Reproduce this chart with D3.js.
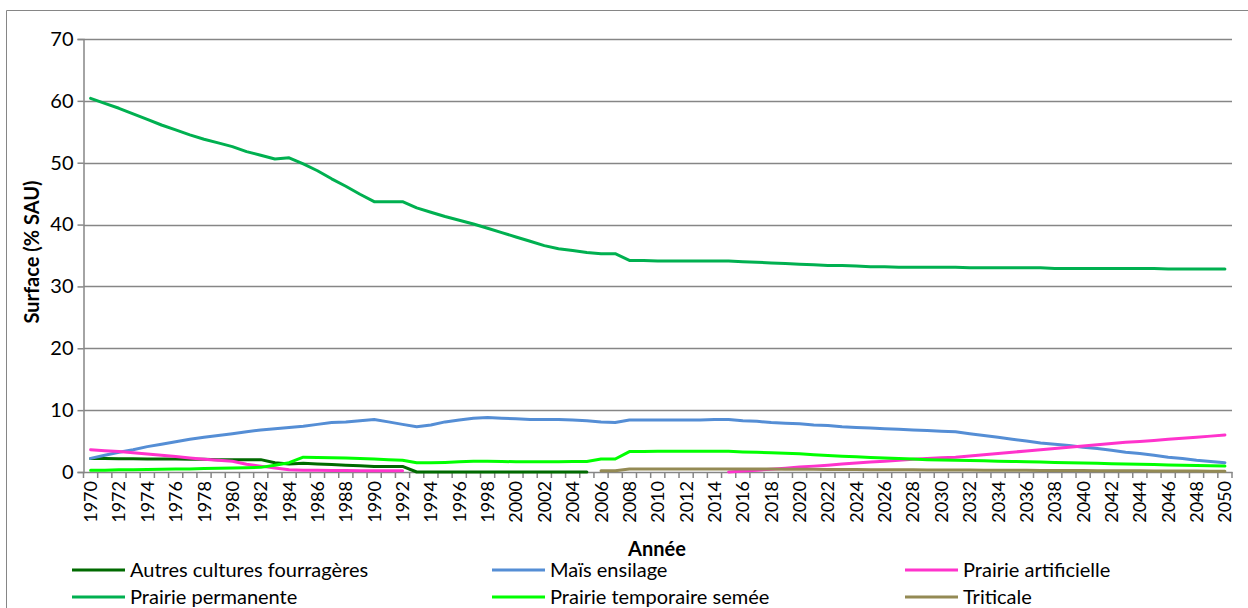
<!DOCTYPE html>
<html><head><meta charset="utf-8">
<script src="https://cdn.jsdelivr.net/npm/d3@7"></script>
<style>
html,body{margin:0;padding:0;background:#fff;}
svg{display:block;font-family:Lato,"Noto Sans",sans-serif;}
</style></head>
<body>
<svg id="chart" width="1248" height="608"></svg>
<script>
const years = d3.range(1970, 2051);
const yTicks = [0, 10, 20, 30, 40, 50, 60, 70];
const xLabelYears = years.filter(y => (y - 1970) % 2 === 0);

const seriesNames = ["Autres cultures fourragères","Maïs ensilage","Prairie artificielle","Prairie permanente","Prairie temporaire semée","Triticale"];
const seriesColors = ["#006A00","#558ED5","#FF33CC","#00B050","#00FF00","#948A54"];

const n = null;
const autres = [2.2,2.2,2.15,2.15,2.1,2.1,2.1,2.05,2.05,2.0,2.0,2.0,2.0,1.5,1.3,1.4,1.3,1.2,1.1,1.0,0.9,0.9,0.9,0,0,0,0,0,0,0,0,0,0,0,0,0,
 n,n,n,n,n,n,n,n,n,n,n,n,n,n,n,n,n,n,n,n,n,n,n,n,n,n,n,n,n,n,n,n,n,n,n,n,n,n,n,n,n,n,n,n,n];
const mais = [2.2,2.7,3.2,3.6,4.1,4.5,4.9,5.3,5.6,5.9,6.2,6.5,6.8,7.0,7.2,7.4,7.7,8.0,8.1,8.3,8.5,8.1,7.7,7.3,7.6,8.1,8.4,8.7,8.8,8.7,8.6,8.5,8.5,8.5,8.4,8.3,8.1,8.0,
 8.4,8.4,8.4,8.4,8.4,8.4,8.5,8.5,8.3,8.2,8.0,7.9,7.8,7.6,7.5,7.3,7.2,7.1,7.0,6.9,6.8,6.7,6.6,6.5,6.2,5.9,5.6,5.3,5.0,4.7,4.5,4.3,4.0,3.8,3.5,3.2,3.0,2.7,2.4,2.2,1.9,1.7,1.5];
const artificielle = [3.6,3.45,3.3,3.1,2.9,2.7,2.5,2.25,2.05,1.9,1.75,1.25,0.95,0.65,0.35,0.3,0.3,0.25,0.25,0.2,0.2,0.2,0.2,
 n,n,n,n,n,n,n,n,n,n,n,n,n,n,n,n,n,n,n,n,n,n,
 0.0,0.15,0.3,0.45,0.6,0.8,0.95,1.1,1.3,1.45,1.6,1.75,1.9,2.05,2.2,2.3,2.4,2.6,2.8,3.0,3.2,3.4,3.6,3.8,4.0,4.2,4.4,4.6,4.8,4.95,5.1,5.3,5.45,5.6,5.8,6.0];
const permanente = [60.4,59.6,58.8,57.9,57.0,56.1,55.3,54.5,53.8,53.2,52.6,51.8,51.2,50.6,50.8,49.8,48.7,47.4,46.2,44.9,43.7,43.7,43.7,42.7,42.0,41.3,40.7,40.1,39.4,38.7,38.0,37.3,36.6,36.1,35.8,35.5,35.3,35.3,
 34.2,34.2,34.1,34.1,34.1,34.1,34.1,34.1,34.0,33.9,33.8,33.7,33.6,33.5,33.4,33.4,33.3,33.2,33.2,33.1,33.1,33.1,33.1,33.1,33.0,33.0,33.0,33.0,33.0,33.0,32.9,32.9,32.9,32.9,32.9,32.9,32.9,32.9,32.8,32.8,32.8,32.8,32.8];
const temporaire = [0.3,0.3,0.35,0.35,0.4,0.45,0.5,0.5,0.55,0.6,0.65,0.7,0.75,1.1,1.5,2.4,2.35,2.3,2.25,2.2,2.1,2.0,1.9,1.5,1.5,1.55,1.65,1.75,1.75,1.7,1.65,1.65,1.65,1.65,1.7,1.7,2.1,2.1,
 3.3,3.3,3.35,3.35,3.35,3.35,3.35,3.35,3.25,3.2,3.1,3.05,2.95,2.8,2.65,2.55,2.45,2.35,2.25,2.2,2.1,2.0,1.95,1.9,1.85,1.8,1.75,1.7,1.65,1.6,1.55,1.5,1.45,1.4,1.35,1.3,1.25,1.2,1.15,1.1,1.05,1.0,0.95];
const triticale = [n,n,n,n,n,n,n,n,n,n,n,n,n,n,n,n,n,n,n,n,n,n,n,n,n,n,n,n,n,n,n,n,n,n,n,n,
 0.2,0.2,0.5,0.5,0.5,0.5,0.5,0.5,0.5,0.5,0.5,0.48,0.47,0.46,0.45,0.44,0.42,0.4,0.39,0.38,0.37,0.36,0.35,0.34,0.33,0.32,0.31,0.3,0.29,0.28,0.27,0.26,0.25,0.24,0.23,0.22,0.21,0.2,0.19,0.18,0.17,0.16,0.15,0.14,0.13];

const seriesValues = [autres, mais, artificielle, permanente, temporaire, triticale];

const svg = d3.select("#chart");
const gridColor = "#868686";
const fontFam = 'Lato,"Noto Sans",sans-serif';

// chart frame
svg.append("path").attr("d", "M6.5,608 V10.5 H1248").attr("fill","none").attr("stroke", gridColor).attr("stroke-width",1);

const L = 83.5, R = 1232, T = 39, B = 472;
const x = d3.scaleBand().domain(years).range([L, R]).padding(0);
const y = d3.scaleLinear().domain([0, 70]).range([B, T]);
const cx = d => x(d) + x.bandwidth() / 2;

// gridlines
svg.append("g").selectAll("line").data(yTicks.filter(t => t > 0)).join("line")
  .attr("x1", L).attr("x2", R).attr("y1", d => Math.round(y(d)) + 0.5).attr("y2", d => Math.round(y(d)) + 0.5)
  .attr("stroke", gridColor).attr("stroke-width", 1.5);

// y axis
const yAxis = d3.axisLeft(y).tickValues(yTicks).tickSize(6).tickPadding(4);
const gy = svg.append("g").attr("transform", `translate(${L},0)`).call(yAxis);
gy.select(".domain").attr("stroke", gridColor).attr("stroke-width", 1.5);
gy.selectAll(".tick line").attr("stroke", gridColor).attr("stroke-width", 1.5);
gy.selectAll(".tick text").attr("font-family", fontFam).attr("font-size", 20).attr("fill", "#000");

// x axis
const xAxis = d3.axisBottom(x).tickValues(xLabelYears).tickSize(0).tickPadding(0);
const gx = svg.append("g").attr("transform", `translate(0,${B})`).call(xAxis);
gx.select(".domain").attr("stroke", gridColor).attr("stroke-width", 1.5);
gx.selectAll(".tick text")
  .attr("font-family", fontFam).attr("font-size", 18).attr("fill", "#000")
  .attr("text-anchor", "end").attr("transform", "translate(0,9) rotate(-90)")
  .attr("x", 0).attr("y", 0).attr("dy", "0.36em");
// tick marks between categories
const boundaries = years.map(d => x(d)).concat([x(years[years.length - 1]) + x.bandwidth()]);
svg.append("g").selectAll("line").data(boundaries).join("line")
  .attr("x1", d => d).attr("x2", d => d).attr("y1", B).attr("y2", B + 6)
  .attr("stroke", gridColor).attr("stroke-width", 1.5);

// lines
const line = d3.line().defined(d => d.v !== null).x(d => cx(d.year)).y(d => y(d.v));
seriesValues.forEach((vals, i) => {
  const pts = years.map((yr, j) => ({year: yr, v: vals[j]}));
  svg.append("path").datum(pts).attr("d", line)
    .attr("fill", "none").attr("stroke", seriesColors[i]).attr("stroke-width", 3)
    .attr("stroke-linejoin", "round").attr("stroke-linecap", "round");
});

// axis titles
svg.append("text").attr("transform", "translate(39,252) rotate(-90)")
  .attr("text-anchor", "middle").attr("font-family", fontFam).attr("font-weight", "bold")
  .attr("font-size", 20).text("Surface (% SAU)");
svg.append("text").attr("x", 657).attr("y", 556)
  .attr("text-anchor", "middle").attr("font-family", fontFam).attr("font-weight", "bold")
  .attr("font-size", 20).text("Année");

// legend
const legCols = [72, 492, 905], legRows = [570, 597];
const leg = svg.append("g").selectAll("g").data(seriesNames).join("g")
  .attr("transform", (d, i) => `translate(${legCols[i % 3]},${legRows[Math.floor(i / 3)]})`);
leg.append("line").attr("x1", 0).attr("x2", 53).attr("y1", 0).attr("y2", 0)
  .attr("stroke", (d, i) => seriesColors[i]).attr("stroke-width", 3);
leg.append("text").attr("x", 58).attr("y", 0).attr("dy", "0.35em")
  .attr("font-family", fontFam).attr("font-size", 20).text(d => d);
</script>
</body></html>
